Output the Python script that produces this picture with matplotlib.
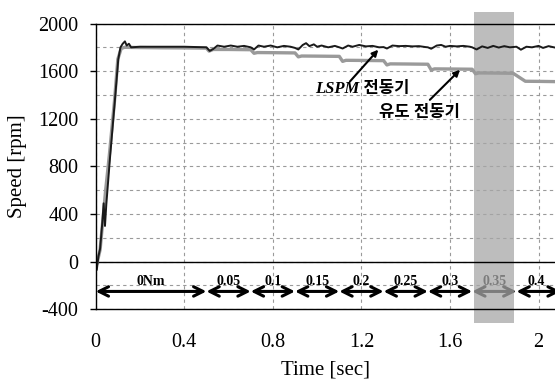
import matplotlib
matplotlib.use("Agg")
import matplotlib.pyplot as plt
from matplotlib.patches import Rectangle
from matplotlib.ticker import MultipleLocator

plt.rcParams['font.family'] = ['Liberation Serif', 'Noto Sans CJK KR']
plt.rcParams['axes.unicode_minus'] = False

# LSPM motor speed (black)
lspm_t = [0, 0.005, 0.012, 0.02, 0.03, 0.036, 0.042, 0.048, 0.065, 0.087, 0.102,
          0.112, 0.122, 0.132, 0.14, 0.15, 0.16, 0.2, 0.3, 0.4, 0.5, 0.515, 0.53,
          0.55, 0.58, 0.61, 0.64, 0.67, 0.7, 0.715, 0.735, 0.76, 0.79, 0.82, 0.85,
          0.88, 0.9, 0.915, 0.935, 0.95, 0.965, 0.985, 1.0, 1.02, 1.05, 1.08, 1.1,
          1.115, 1.14, 1.16, 1.19, 1.22, 1.25, 1.28, 1.3, 1.315, 1.34, 1.37, 1.4,
          1.43, 1.46, 1.49, 1.5, 1.515, 1.54, 1.56, 1.58, 1.6, 1.63, 1.66, 1.69,
          1.7, 1.72, 1.745, 1.77, 1.795, 1.82, 1.845, 1.87, 1.9, 1.92, 1.945, 1.97,
          2.0, 2.02, 2.045, 2.074]
lspm_speed = [0, -70, 40, 110, 330, 490, 300, 480, 880, 1360, 1700,
              1800, 1830, 1850, 1815, 1830, 1800, 1805, 1805, 1805, 1800, 1770, 1785,
              1815, 1805, 1815, 1805, 1812, 1800, 1782, 1815, 1805, 1815, 1800, 1812,
              1805, 1795, 1782, 1820, 1835, 1810, 1825, 1805, 1815, 1800, 1812, 1800,
              1790, 1815, 1805, 1820, 1808, 1812, 1800, 1802, 1790, 1815, 1810, 1812,
              1808, 1810, 1802, 1800, 1788, 1815, 1820, 1805, 1812, 1808, 1812, 1805,
              1800, 1782, 1808, 1795, 1812, 1798, 1810, 1800, 1805, 1780, 1805, 1800,
              1812, 1795, 1810, 1798]

# induction motor speed (gray)
ind_t = [0, 0.005, 0.02, 0.03, 0.045, 0.062, 0.085, 0.1, 0.115, 0.13, 0.2, 0.3,
         0.4, 0.5, 0.512, 0.53, 0.6, 0.7, 0.715, 0.73, 0.8, 0.9, 0.915, 0.93, 1.0,
         1.1, 1.115, 1.13, 1.2, 1.3, 1.315, 1.33, 1.4, 1.5, 1.515, 1.53, 1.6, 1.7,
         1.715, 1.73, 1.8, 1.885, 1.94, 2.0, 2.074]
ind_speed = [0, -20, 100, 300, 600, 900, 1350, 1700, 1790, 1800, 1798, 1796,
             1795, 1793, 1768, 1782, 1782, 1780, 1750, 1756, 1755, 1753, 1720, 1727,
             1726, 1724, 1682, 1691, 1690, 1688, 1652, 1661, 1660, 1658, 1610, 1619,
             1618, 1616, 1578, 1585, 1584, 1582, 1515, 1514, 1512]

# load torque steps
step_edges = [0, 0.5, 0.7, 0.9, 1.1, 1.3, 1.5, 1.7, 1.9, 2.1]
step_labels = ['0Nm', '0.05', '0.1', '0.15', '0.2', '0.25', '0.3', '0.35', '0.4']

fig = plt.figure(figsize=(5.55, 3.81), dpi=100)
ax = fig.add_axes([0.1724, 0.1882, 0.8276, 0.7501])

ax.set_xlim(0, 2.074)
ax.set_ylim(-400, 2000)
ax.yaxis.set_major_locator(MultipleLocator(400))
ax.yaxis.set_minor_locator(MultipleLocator(200))
ax.set_xticks([0, 0.4, 0.8, 1.2, 1.6, 2.0])
ax.set_xticklabels(['0', '0.4', '0.8', '1.2', '1.6', '2'])

ax.grid(True, which='both', axis='y', color='#9a9a9a', lw=0.8, ls=(0, (3, 3)), zorder=0)
ax.grid(True, which='major', axis='x', color='#9a9a9a', lw=0.8, ls=(0, (3, 3)), zorder=0)
ax.set_axisbelow(True)

ax.spines['right'].set_visible(False)
for s in ['left', 'top', 'bottom']:
    ax.spines[s].set_linewidth(1.0)
    ax.spines[s].set_zorder(4)
ax.axhline(0, color='black', lw=1.0, zorder=2.5)

ax.tick_params(axis='y', which='major', direction='out', length=4.3, width=1,
               labelsize=14.5, pad=8)
ax.tick_params(axis='y', which='minor', length=0)
ax.tick_params(axis='x', length=0, labelsize=14.5, pad=17)

ax.set_xlabel('Time [sec]', fontsize=15, labelpad=6)
ax.set_ylabel('Speed [rpm]', fontsize=15, labelpad=8)

# torque step arrows
for i, lab in enumerate(step_labels):
    a, b = step_edges[i], step_edges[i + 1]
    ax.annotate('', xy=(a, -250), xytext=(b, -250),
                arrowprops=dict(arrowstyle='<->', lw=2.2, color='black',
                                mutation_scale=17, shrinkA=0, shrinkB=0),
                zorder=1, annotation_clip=False)
    xc = (a + b) / 2 if b < 2 else a + 0.09
    ax.text(xc, -168, lab, ha='center', va='center', fontsize=10,
            fontweight='bold', zorder=1)

# highlighted region
ax.add_patch(Rectangle((1.708, -512), 0.182, 2612, facecolor='#a7a7a7', alpha=0.75,
                       edgecolor='none', clip_on=False, zorder=2))

ax.plot(ind_t, ind_speed, color='#9a9a9a', lw=2.4, zorder=3)
ax.plot(lspm_t, lspm_speed, color='#1a1a1a', lw=1.4, zorder=3.2)

ax.annotate('', xy=(1.276, 1780), xytext=(1.148, 1513),
            arrowprops=dict(arrowstyle='-|>', lw=1.5, color='black', mutation_scale=9,
                            shrinkA=0, shrinkB=0), zorder=5)
ax.annotate('', xy=(1.645, 1611), xytext=(1.509, 1359),
            arrowprops=dict(arrowstyle='-|>', lw=1.5, color='black', mutation_scale=9,
                            shrinkA=0, shrinkB=0), zorder=5)
ax.text(1.205, 1449, 'LSPM 전동기', ha='center', va='center', fontsize=12,
        fontweight='bold', fontstyle='italic', zorder=5)
ax.text(1.46, 1247, '유도 전동기', ha='center', va='center', fontsize=12,
        fontweight='bold', fontstyle='italic', zorder=5)

fig.savefig('out.png', dpi=100)
